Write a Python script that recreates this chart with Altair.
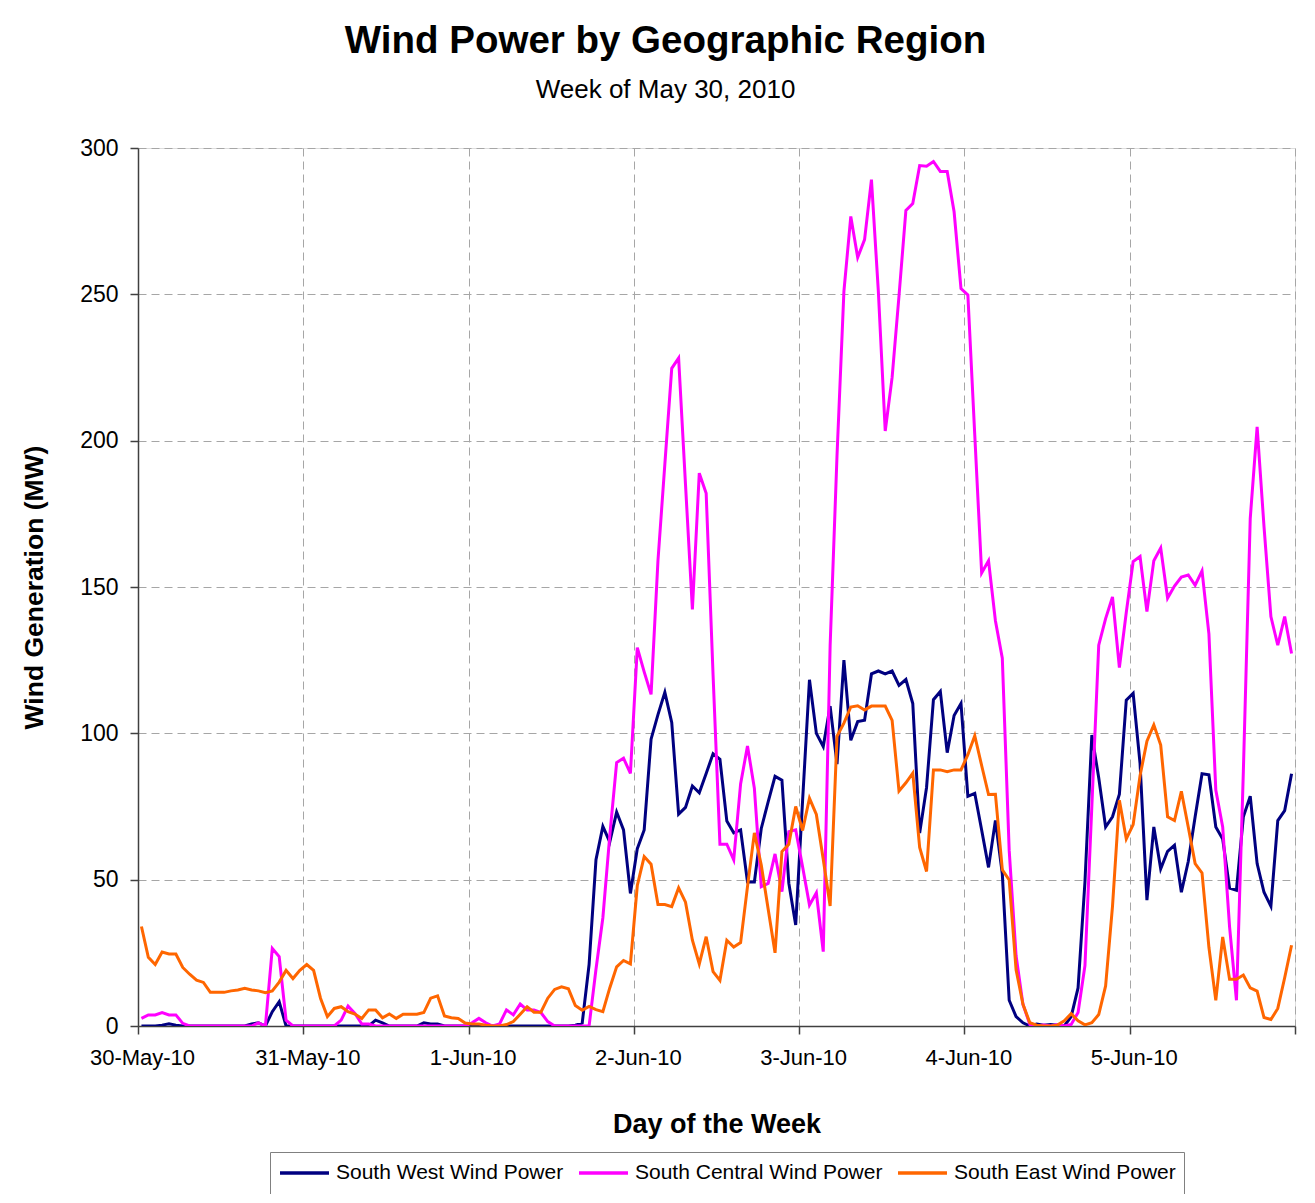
import altair as alt
import pandas as pd

# ---------------- data ----------------
series_names = ["South West Wind Power", "South Central Wind Power", "South East Wind Power"]
series_colors = ["#000080", "#FF00FF", "#FF6600"]
day_labels = ["30-May-10", "31-May-10", "1-Jun-10", "2-Jun-10", "3-Jun-10", "4-Jun-10", "5-Jun-10", "6-Jun-10"]
y_ticks = [0, 50, 100, 150, 200, 250, 300]

# hourly values (MW), 168 hours starting 30-May-10 00:00
south_west = [
    0, 0, 0, 0.3, 0.8, 0.3, 0, 0, 0, 0, 0, 0, 0, 0, 0, 0, 0.7, 1.1, 0, 4.9,
    8.3, 0, 0, 0, 0, 0, 0, 0, 0, 0, 0, 0, 0, 0, 2, 1.1, 0, 0, 0, 0,
    0, 1.1, 0.7, 0.7, 0, 0, 0, 0, 0, 0, 0, 0, 0, 0, 0, 0, 0, 0, 0, 0,
    0, 0, 0, 0.3, 1, 21, 56.8, 68.2, 62.9, 73.1, 67, 45.3, 60.6, 67, 98, 106.4, 114, 103.7, 72.4, 74.7,
    82, 79.7, 86.3, 93, 91.1, 70, 66, 67, 49.2, 49.2, 67.5, 76.6, 85.3, 84, 48.8, 34.5, 77, 118.3, 100, 95.5,
    109.3, 89.5, 125, 97.6, 104, 104.5, 120.3, 121.3, 120.3, 121.3, 116.4, 118.4, 110.2, 65.9, 81.5, 111.5, 114.3, 93.4, 106.1, 110.2,
    78.5, 79.5, 67, 54.2, 70.2, 52, 8.8, 3.2, 1.1, 0, 0.7, 0.3, 0.5, 0.3, 0, 3.2, 13, 49.2, 99.4, 84.8,
    68, 71.5, 79.2, 111.3, 113.7, 89.7, 43, 68, 53.7, 59.7, 61.8, 45.7, 56.2, 71.5, 86.2, 85.8, 68, 63.9, 47.1, 46.4,
    71.5, 78.5, 55.5, 45.7, 40.9, 70.2, 73.6, 86.2,
]
south_central = [
    2.6, 3.8, 3.8, 4.6, 3.8, 3.8, 0.9, 0, 0, 0, 0, 0, 0, 0, 0, 0, 0, 1.1, 0, 26.5,
    23.7, 2, 0, 0, 0, 0, 0, 0, 0, 2, 6.8, 4.3, 0.7, 0.7, 0, 0, 0, 0, 0, 0,
    0, 0, 0, 0, 0, 0, 0, 0, 1.1, 2.6, 1.1, 0, 0.7, 5.5, 3.8, 7.5, 5.5, 5.5, 4.6, 1.5,
    0, 0, 0, 0, 0, 0, 19.4, 37, 65, 90, 91.5, 86.3, 129.3, 121, 113.3, 159, 192, 224.7, 228.2, 185,
    142.3, 188.9, 182, 120, 62.1, 62.1, 56.8, 82.7, 95.7, 81.2, 47.6, 48.7, 58.8, 45.9, 66.4, 67, 54.4, 41.3, 45.5, 25.4,
    130, 195, 251, 276.6, 262.6, 268.7, 289.2, 251, 203.3, 221.6, 249.5, 278.7, 281, 294, 293.8, 295.4, 292, 292, 278.2, 252,
    249.8, 202, 154.8, 159, 138.5, 125.7, 60, 24, 7.4, 0.5, 0, 0.3, 0, 0.5, 0, 0.5, 4.6, 20.6, 75, 130.1,
    139.2, 146.6, 122.5, 141.3, 158.7, 160.4, 141.6, 159, 163.3, 146.2, 150.3, 153.4, 154.1, 150.6, 155.5, 134, 80.6, 68, 33.9, 8.8,
    87, 173.4, 204.7, 170.6, 139.9, 130.1, 139.9, 127.3,
]
south_east = [
    34, 23.5, 21, 25.3, 24.6, 24.6, 20, 17.7, 15.7, 14.9, 11.5, 11.5, 11.5, 12, 12.3, 12.9, 12.3, 12, 11.4, 12,
    15, 19, 16.2, 19, 21, 19, 9.5, 3.2, 6, 6.6, 4.9, 4.1, 2.6, 5.5, 5.5, 2.8, 4.1, 2.6, 4, 4,
    4, 4.6, 9.5, 10.3, 3.4, 2.8, 2.6, 1, 0.7, 0.7, 0.3, 0, 0, 0.5, 1.5, 4, 6.6, 4.7, 4.7, 9.5,
    12.5, 13.4, 12.7, 7, 5.4, 6.7, 5.6, 4.9, 13, 20.2, 22.4, 21.2, 48, 57.9, 55.3, 41.5, 41.5, 40.8, 47.2, 42.3,
    29.3, 21.2, 30.5, 18.6, 15.6, 29.3, 27, 28.5, 47.6, 66, 55, 40, 25, 59.6, 62.1, 75, 66.8, 77.8, 72.3, 57,
    41, 99, 103.5, 109, 109.4, 108, 109.3, 109.3, 109.3, 104.4, 80.3, 83.1, 86.4, 61, 52.8, 87.5, 87.5, 86.9, 87.5, 87.5,
    92.7, 99.2, 89, 79.1, 79.2, 53.4, 49.9, 19.2, 7.4, 1.1, 0.3, 0, 0, 0.3, 1.8, 4.2, 1.8, 0.4, 1.1, 3.9,
    13.7, 40.9, 77.1, 63.9, 68.8, 85.5, 97.3, 102.9, 96, 71.5, 70.2, 80.2, 68, 55.5, 52.3, 26.9, 8.8, 30.4, 16, 16,
    17.4, 13, 11.9, 2.9, 2.2, 6, 16.5, 27.6,
]

# ---------------- table ----------------
start = pd.Timestamp("2010-05-30 00:00", tz="UTC")
start_ms = int(start.timestamp() * 1000)
hour_ms = 3600 * 1000
day_ms = 24 * hour_ms

rows = []
for name, vals in zip(series_names, [south_west, south_central, south_east]):
    for k, v in enumerate(vals):
        rows.append({"time": start_ms + k * hour_ms + hour_ms // 2, "value": v, "series": name})
df = pd.DataFrame(rows)

day_values = [start_ms + i * day_ms for i in range(len(day_labels))]
label_array = "[" + ",".join("'" + s + "'" for s in day_labels[:-1]) + "]"
label_expr = f"{label_array}[round((datum.value - {start_ms}) / {day_ms})] || ''"

FONT = "Liberation Sans"
GRID = "#a6a6a6"
AXIS = "#404040"

chart = (
    alt.Chart(df)
    .mark_line(strokeWidth=3, clip=True)
    .encode(
        x=alt.X(
            "time:T",
            scale=alt.Scale(type="utc", domain=[day_values[0], day_values[-1]], nice=False),
            axis=alt.Axis(
                title="Day of the Week",
                values=day_values,
                labelExpr=label_expr,
                labelFontSize=22,
                labelPadding=13,
                labelOffset=4,
                labelFont=FONT,
                labelColor="black",
                tickSize=8,
                tickColor=AXIS,
                tickWidth=1.5,
                domainColor=AXIS,
                domainWidth=1.5,
                grid=True,
                gridColor=GRID,
                gridDash=[8, 5],
                gridWidth=1,
                titleFont=FONT,
                titleFontSize=27,
                titleFontWeight="bold",
                titleColor="black",
                titlePadding=43,
                labelOverlap=False,
                labelFlush=False,
            ),
        ),
        y=alt.Y(
            "value:Q",
            scale=alt.Scale(domain=[0, 300], nice=False),
            axis=alt.Axis(
                title="Wind Generation (MW)",
                values=y_ticks,
                labelFontSize=23,
                labelPadding=12,
                labelFont=FONT,
                labelColor="black",
                tickSize=8,
                tickColor=AXIS,
                tickWidth=1.5,
                domainColor=AXIS,
                domainWidth=1.5,
                grid=True,
                gridColor=GRID,
                gridDash=[8, 5],
                gridWidth=1,
                titleFont=FONT,
                titleFontSize=26.5,
                titleFontWeight="bold",
                titleColor="black",
                titlePadding=31,
            ),
        ),
        color=alt.Color(
            "series:N",
            scale=alt.Scale(domain=series_names, range=series_colors),
            legend=alt.Legend(
                title=None,
                orient="none",
                legendX=132,
                legendY=1004,
                direction="horizontal",
                symbolType="stroke",
                symbolSize=2400,
                symbolStrokeWidth=3.5,
                clipHeight=26,
                labelFont=FONT,
                labelFontSize=21,
                labelColor="black",
                labelLimit=500,
                labelOffset=5,
                columnPadding=13,
                padding=8,
                strokeColor="#808080",
                fillColor="white",
            ),
        ),
        order=alt.Order("time:T"),
    )
    .properties(
        width=1157,
        height=878,
        padding={"left": 130, "top": 140, "right": 10, "bottom": 168},
        autosize=alt.AutoSizeParams(type="none"),
        title=alt.TitleParams(
            text="Wind Power by Geographic Region",
            subtitle="Week of May 30, 2010",
            font=FONT,
            subtitleFont=FONT,
            fontSize=38.5,
            subtitleFontSize=26,
            fontWeight="bold",
            color="black",
            subtitleColor="black",
            anchor="middle",
            frame="group",
            dx=-51,
            offset=33,
            subtitlePadding=16,
        ),
    )
    .configure_view(stroke="#808080", strokeWidth=1)
    .configure(background="white")
)

chart.save("out.html", embed_options={"renderer": "svg", "actions": False})
